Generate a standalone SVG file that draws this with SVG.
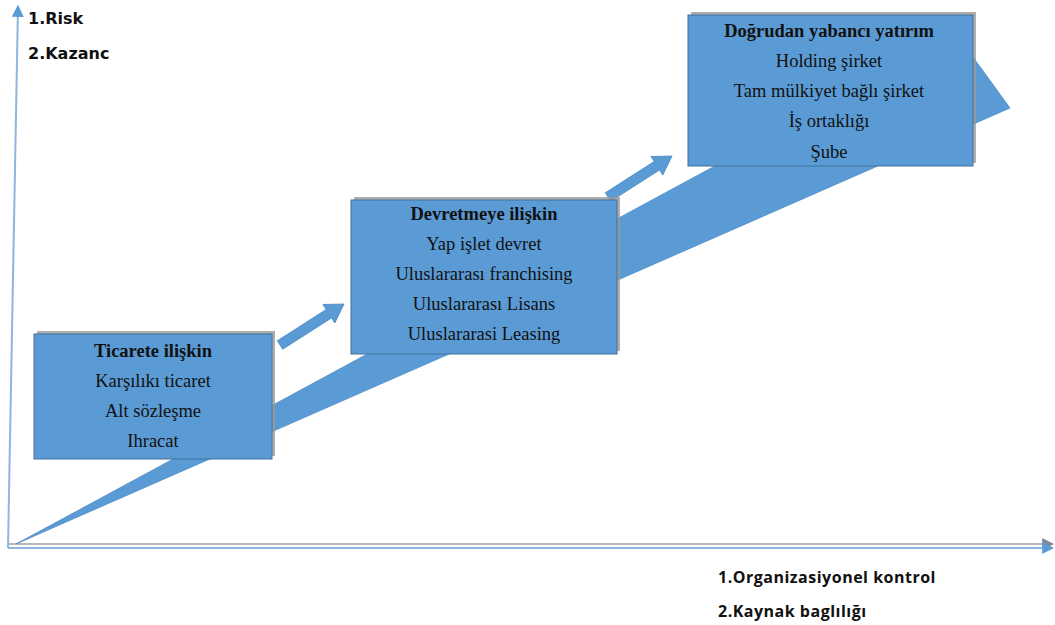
<svg xmlns="http://www.w3.org/2000/svg" width="1055" height="625" viewBox="0 0 1055 625">
<style>
.box{fill:#5B9BD5;stroke:#41719C;stroke-width:1}
.shadow{fill:#9a9a9a;opacity:0.8}
.wedge{fill:#5B9BD5;stroke:#4f8cc4;stroke-width:0.8}
.t{font-family:"Liberation Serif","Times New Roman",serif;font-size:18.5px;fill:#111;text-anchor:middle}
.tb{font-weight:bold}
.ax{font-family:"DejaVu Sans",Verdana,sans-serif;font-weight:bold;font-size:16px;fill:#111}
.ax2{font-family:"Open Sans","Liberation Sans",sans-serif;font-weight:bold;font-size:16px;letter-spacing:0.5px;fill:#111}
</style>
<defs>
<marker id="ahb" viewBox="0 0 10 10" refX="9" refY="5" markerWidth="6" markerHeight="6" orient="auto">
<path d="M0,0 L10,5 L0,10 z" fill="#5B9BD5"/>
</marker>
<marker id="ahg" viewBox="0 0 10 10" refX="9" refY="5" markerWidth="6" markerHeight="6" orient="auto">
<path d="M0,0 L10,5 L0,10 z" fill="#7f8a99"/>
</marker>
</defs>
<rect width="1055" height="625" fill="#fff"/>
<g id="connectors">
<line x1="8" y1="544" x2="1053" y2="544" stroke="#b8b8b8" stroke-width="2" marker-end="url(#ahg)"/>
<line x1="8" y1="548" x2="1053" y2="548" stroke="#8fb6e0" stroke-width="2" marker-end="url(#ahb)"/>
<line x1="8" y1="548" x2="18" y2="6" stroke="#8fb6e0" stroke-width="2" marker-end="url(#ahb)"/>
<polygon class="wedge" points="16,544 957,35 1010,108"/>
<g transform="translate(280,345) rotate(-32.6)">
<polygon class="wedge" points="0,-5 58,-5 58,-11 76,0 58,11 58,5 0,5"/>
</g>
<g transform="translate(608,197) rotate(-32.6)">
<polygon class="wedge" points="0,-5 58,-5 58,-11 76,0 58,11 58,5 0,5"/>
</g>
</g>
<g id="axis-labels">
<text class="ax" x="28" y="24">1.Risk</text>
<text class="ax" x="28" y="59">2.Kazanc</text>
<text class="ax2" x="718" y="583">1.Organizasiyonel kontrol</text>
<text class="ax2" x="718" y="617">2.Kaynak baglılığı</text>
</g>
<g id="node-ticaret">
<rect class="shadow" x="37" y="331" width="238" height="125"/>
<rect class="box" x="34" y="334" width="238" height="125"/>
<text class="t tb" x="153" y="357">Ticarete ilişkin</text>
<text class="t" x="153" y="387">Karşılıkı ticaret</text>
<text class="t" x="153" y="417">Alt sözleşme</text>
<text class="t" x="153" y="447">Ihracat</text>
</g>
<g id="node-devretme">
<rect class="shadow" x="354" y="197" width="266" height="154"/>
<rect class="box" x="351" y="200" width="266" height="154"/>
<text class="t tb" x="484" y="220">Devretmeye ilişkin</text>
<text class="t" x="484" y="250">Yap işlet devret</text>
<text class="t" x="484" y="280">Uluslararası franchising</text>
<text class="t" x="484" y="310">Uluslararası Lisans</text>
<text class="t" x="484" y="340">Uluslararasi Leasing</text>
</g>
<g id="node-dogrudan">
<rect class="shadow" x="691" y="12" width="285" height="151"/>
<rect class="box" x="688" y="15" width="285" height="151"/>
<text class="t tb" x="829" y="37">Doğrudan yabancı yatırım</text>
<text class="t" x="829" y="67">Holding şirket</text>
<text class="t" x="829" y="97">Tam mülkiyet bağlı şirket</text>
<text class="t" x="829" y="127">İş ortaklığı</text>
<text class="t" x="829" y="158">Şube</text>
</g>
</svg>
